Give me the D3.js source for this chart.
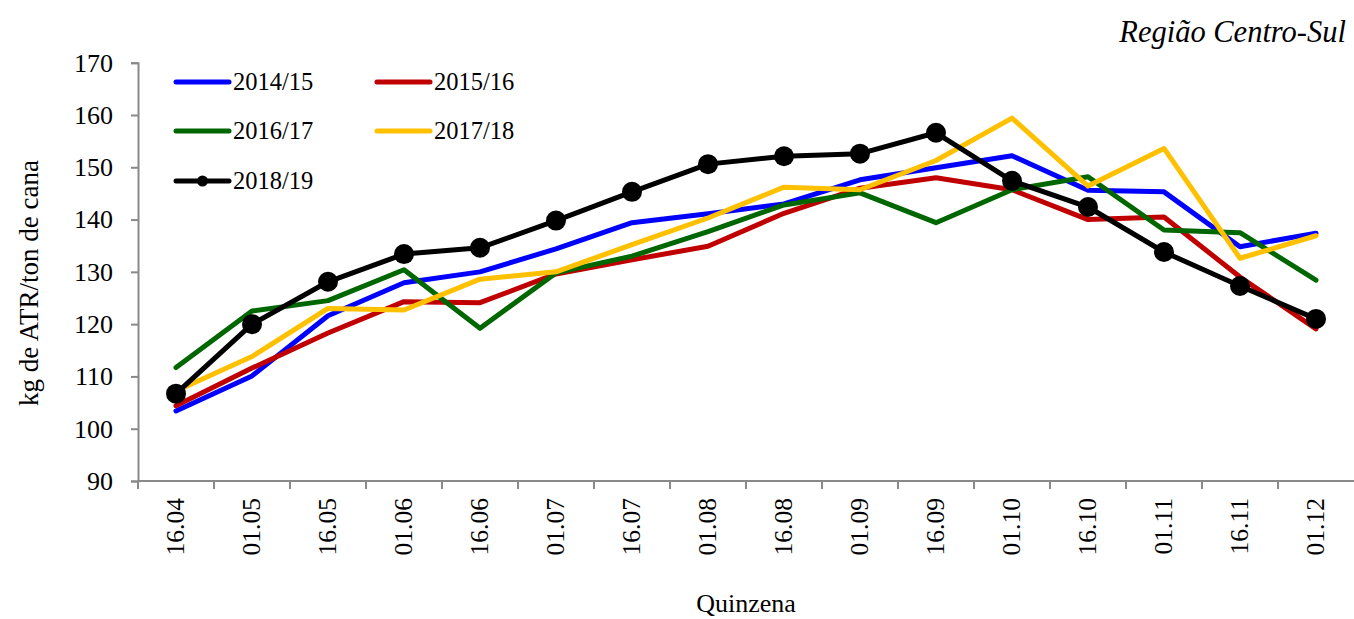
<!DOCTYPE html>
<html>
<head>
<meta charset="utf-8">
<script src="https://cdn.jsdelivr.net/npm/d3@7"></script>
<style>
  body { margin: 0; background: #fff; }
  svg { display: block; font-family: "Liberation Serif", "DejaVu Serif", serif; }
</style>
</head>
<body>
<div id="chart"></div>
<script>
const categories = ['16.04', '01.05', '16.05', '01.06', '16.06', '01.07', '16.07', '01.08',
  '16.08', '01.09', '16.09', '01.10', '16.10', '01.11', '16.11', '01.12'];

const s201415 = [103.4, 110.1, 121.6, 127.9, 130.0, 134.4, 139.4, 141.1, 143.0, 147.6, 149.9, 152.2, 145.6, 145.3, 134.8, 137.4];
const s201516 = [104.4, 111.6, 118.3, 124.3, 124.1, 129.6, 132.3, 134.9, 141.2, 146.0, 148.0, 145.7, 140.0, 140.5, 129.0, 119.1];
const s201617 = [111.7, 122.5, 124.5, 130.4, 119.2, 129.8, 133.0, 137.7, 142.8, 145.1, 139.4, 145.7, 148.2, 138.0, 137.5, 128.4];
const s201718 = [107.2, 113.8, 123.0, 122.7, 128.6, 130.0, 135.2, 140.3, 146.2, 145.7, 151.3, 159.4, 146.4, 153.6, 132.6, 136.9];
const s201819 = [106.7, 120.0, 128.1, 133.4, 134.6, 139.8, 145.3, 150.6, 152.1, 152.6, 156.6, 147.4, 142.4, 133.8, 127.3, 121.0];

const seriesNames = ['2014/15', '2015/16', '2016/17', '2017/18', '2018/19'];
const seriesColors = ['#0000ff', '#c00000', '#006600', '#ffc000', '#000000'];
const yTicks = [90, 100, 110, 120, 130, 140, 150, 160, 170];

const series = [s201415, s201516, s201617, s201718, s201819].map((values, i) => ({
  name: seriesNames[i], color: seriesColors[i], values: values, markers: i === 4
}));

const width = 1354, height = 619;
const margin = { top: 62.7, right: 0, bottom: 138, left: 138 };

const svg = d3.select('#chart').append('svg')
  .attr('width', width)
  .attr('height', height);

const x = d3.scaleBand()
  .domain(categories)
  .range([margin.left, width - margin.right]);

const y = d3.scaleLinear()
  .domain([90, 170])
  .range([height - margin.bottom, margin.top]);

const axisColor = '#898989';

// Y axis
const yAxis = svg.append('g')
  .attr('transform', 'translate(' + margin.left + ',0)')
  .call(d3.axisLeft(y).tickValues(yTicks).tickSize(7).tickPadding(18));
yAxis.select('.domain').attr('stroke', axisColor).attr('stroke-width', 2);
yAxis.selectAll('.tick line').attr('stroke', axisColor).attr('stroke-width', 2);
yAxis.selectAll('.tick text')
  .attr('font-size', 26)
  .attr('font-family', '"Liberation Serif", serif')
  .attr('fill', '#000');

// X axis: ticks on band boundaries
const xAxisG = svg.append('g')
  .attr('transform', 'translate(0,' + y(90) + ')');
xAxisG.append('line')
  .attr('x1', margin.left).attr('x2', width)
  .attr('stroke', axisColor).attr('stroke-width', 2);
xAxisG.selectAll('.xtick')
  .data(categories)
  .enter()
  .append('line')
  .attr('x1', d => x(d)).attr('x2', d => x(d))
  .attr('y1', 0).attr('y2', 8)
  .attr('stroke', axisColor).attr('stroke-width', 2);
xAxisG.selectAll('.xlabel')
  .data(categories)
  .enter()
  .append('text')
  .attr('transform', d => 'translate(' + (x(d) + x.bandwidth() / 2) + ',17) rotate(-90)')
  .attr('text-anchor', 'end')
  .attr('dy', '0.33em')
  .attr('font-size', 25.5)
  .attr('fill', '#000')
  .text(d => d);

// Axis titles
svg.append('text')
  .attr('transform', 'translate(38,' + 283 + ') rotate(-90)')
  .attr('text-anchor', 'middle')
  .attr('font-size', 27)
  .text('kg de ATR/ton de cana');

svg.append('text')
  .attr('x', 746)
  .attr('y', 612)
  .attr('text-anchor', 'middle')
  .attr('font-size', 26)
  .text('Quinzena');

svg.append('text')
  .attr('x', 1346)
  .attr('y', 42)
  .attr('text-anchor', 'end')
  .attr('font-size', 30.5)
  .attr('font-style', 'italic')
  .text('Região Centro-Sul');

// Lines
const line = d3.line()
  .x((d, i) => x(categories[i]) + x.bandwidth() / 2)
  .y(d => y(d));

series.forEach(s => {
  svg.append('path')
    .datum(s.values)
    .attr('fill', 'none')
    .attr('stroke', s.color)
    .attr('stroke-width', 5)
    .attr('stroke-linejoin', 'round')
    .attr('stroke-linecap', 'round')
    .attr('d', line);
  if (s.markers) {
    svg.selectAll(null)
      .data(s.values)
      .enter()
      .append('circle')
      .attr('cx', (d, i) => x(categories[i]) + x.bandwidth() / 2)
      .attr('cy', d => y(d))
      .attr('r', 10)
      .attr('fill', s.color);
  }
});

// Legend
const legendPos = [[176, 82], [377, 82], [176, 131], [377, 131], [176, 181]];
series.forEach((s, i) => {
  const g = svg.append('g')
    .attr('transform', 'translate(' + legendPos[i][0] + ',' + legendPos[i][1] + ')');
  g.append('line')
    .attr('x1', 0).attr('x2', 53)
    .attr('stroke', s.color)
    .attr('stroke-width', 5)
    .attr('stroke-linecap', 'round');
  if (s.markers) {
    g.append('circle').attr('cx', 26.5).attr('r', 5.5).attr('fill', s.color);
  }
  g.append('text')
    .attr('x', 57)
    .attr('y', 8)
    .attr('font-size', 24.5)
    .text(s.name);
});
</script>
</body>
</html>
